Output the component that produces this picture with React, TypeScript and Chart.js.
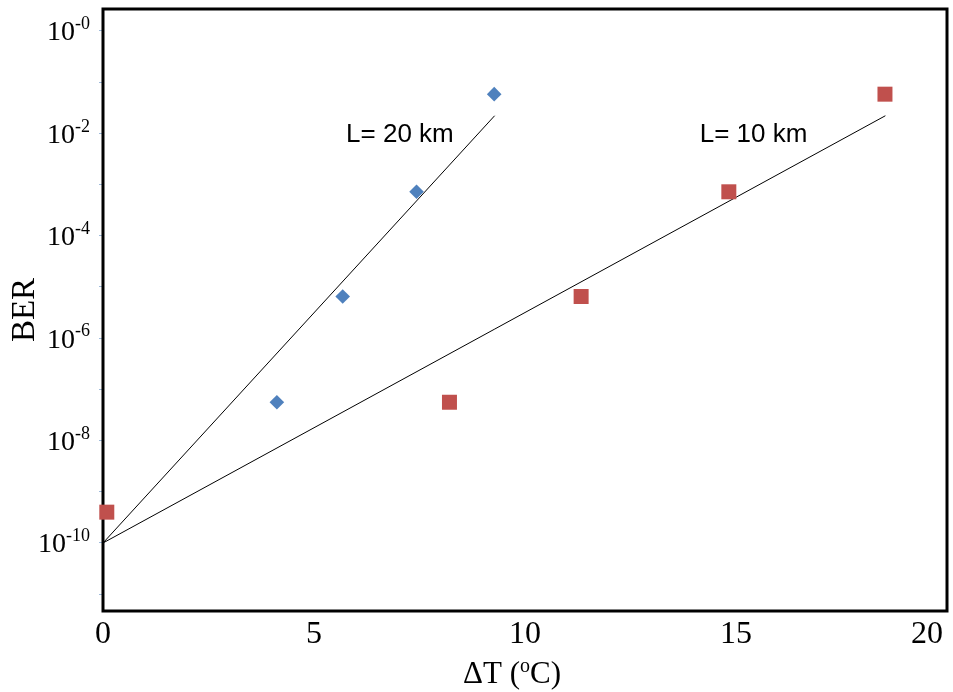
import { useEffect, useRef } from "react";
import { Chart, registerables } from "chart.js";

Chart.register(...registerables);

// ---- data ----
const dt20km = [4.12, 5.68, 7.43, 9.27];
const ber20km = [5.6e-8, 6.5e-6, 7.2e-4, 5.8e-2];
const dt10km = [0.09, 8.21, 11.33, 14.83, 18.53];
const ber10km = [4.0e-10, 5.6e-8, 6.5e-6, 7.2e-4, 5.8e-2];

// exponential trend lines (straight on the log axis)
const fit20kmDt = [0, 9.28];
const fit20kmBer = [1e-10, 2.2e-2];
const fit10kmDt = [0, 18.54];
const fit10kmBer = [1e-10, 2.2e-2];

const xTickValues = [0, 5, 10, 15, 20];
const yLabelExponents = [0, 2, 4, 6, 8, 10];
const yMarkExponents = [0, 1, 2, 3, 4, 5, 6, 7, 8, 9, 10, 11];

const annotationTexts = ["L= 20 km", "L= 10 km"];
const annotationDt = [5.76, 14.14];
const annotationBer = [9.2e-3, 9.2e-3];

const xTitleMain = "ΔT (";
const xTitleSup = "o";
const xTitleEnd = "C)";
const yTitle = "BER";

const SERIF = "'Liberation Serif', 'Times New Roman', serif";
const SANS = "'Liberation Sans', Arial, sans-serif";

const decorPlugin = {
  id: "decor",
  beforeDatasetsDraw(chart: any) {
    const { ctx, chartArea: a } = chart;
    ctx.save();
    ctx.strokeStyle = "#000";
    ctx.lineWidth = 3;
    ctx.strokeRect(a.left, a.top, a.right - a.left, a.bottom - a.top);
    ctx.restore();
  },
  afterDraw(chart: any) {
    const { ctx, chartArea: a } = chart;
    const ys = chart.scales.y;
    const xs = chart.scales.x;
    ctx.save();
    ctx.fillStyle = "#000";

    // y tick labels: 10 with superscript exponent
    const mainSize = 28;
    const supSize = 18;
    const rightEdge = a.left - 13;
    yLabelExponents.forEach((e) => {
      const py = ys.getPixelForValue(Math.pow(10, -e));
      const sup = "-" + e;
      ctx.font = `${supSize}px ${SERIF}`;
      const wSup = ctx.measureText(sup).width;
      ctx.font = `${mainSize}px ${SERIF}`;
      const wMain = ctx.measureText("10").width;
      const baseline = py + 0.338 * mainSize;
      ctx.textAlign = "left";
      ctx.textBaseline = "alphabetic";
      ctx.fillText("10", rightEdge - wSup - wMain, baseline);
      ctx.font = `${supSize}px ${SERIF}`;
      ctx.fillText(sup, rightEdge - wSup, baseline - 0.4 * mainSize);
    });

    // x tick labels: centred under the tick, kept inside the frame at the right end
    const xSize = 32;
    ctx.font = `${xSize}px ${SERIF}`;
    ctx.textAlign = "center";
    ctx.textBaseline = "alphabetic";
    xTickValues.forEach((v) => {
      const t = String(v);
      const w = ctx.measureText(t).width;
      let px = xs.getPixelForValue(v);
      px = Math.min(px, a.right - 4 - w / 2);
      ctx.fillText(t, px, 632 + 0.338 * xSize);
    });

    // x axis title with superscript o
    const tSize = 31;
    const tSup = 20;
    ctx.font = `${tSize}px ${SERIF}`;
    const w1 = ctx.measureText(xTitleMain).width;
    const w3 = ctx.measureText(xTitleEnd).width;
    ctx.font = `${tSup}px ${SERIF}`;
    const w2 = ctx.measureText(xTitleSup).width;
    const total = w1 + w2 + w3;
    const cx = (a.left + a.right) / 2 - 13;
    const base = 673 + 0.338 * tSize;
    let sx = cx - total / 2;
    ctx.textAlign = "left";
    ctx.textBaseline = "alphabetic";
    ctx.font = `${tSize}px ${SERIF}`;
    ctx.fillText(xTitleMain, sx, base);
    sx += w1;
    ctx.font = `${tSup}px ${SERIF}`;
    ctx.fillText(xTitleSup, sx, base - 0.38 * tSize);
    sx += w2;
    ctx.font = `${tSize}px ${SERIF}`;
    ctx.fillText(xTitleEnd, sx, base);

    // series annotations
    ctx.font = `26px ${SANS}`;
    ctx.textAlign = "left";
    ctx.textBaseline = "middle";
    annotationTexts.forEach((t, i) => {
      ctx.fillText(t, xs.getPixelForValue(annotationDt[i]), ys.getPixelForValue(annotationBer[i]));
    });
    ctx.restore();
  },
};

export default function App() {
  const ref = useRef<HTMLCanvasElement>(null);
  useEffect(() => {
    const chart = new Chart(ref.current as HTMLCanvasElement, {
      type: "scatter",
      data: {
        datasets: [
          {
            label: "L= 20 km",
            data: dt20km.map((x, i) => ({ x, y: ber20km[i] })),
            pointStyle: "rectRot",
            pointRadius: 7.3,
            backgroundColor: "#4F81BD",
            borderColor: "#4F81BD",
            borderWidth: 0,
            showLine: false,
            clip: false,
            order: 0,
          },
          {
            label: "L= 10 km",
            data: dt10km.map((x, i) => ({ x, y: ber10km[i] })),
            pointStyle: "rect",
            pointRadius: 10.6,
            backgroundColor: "#C0504D",
            borderColor: "#C0504D",
            borderWidth: 0,
            showLine: false,
            clip: false,
            order: 0,
          },
          {
            label: "fit 20 km",
            data: fit20kmDt.map((x, i) => ({ x, y: fit20kmBer[i] })),
            showLine: true,
            pointRadius: 0,
            borderColor: "#000",
            borderWidth: 1,
            order: 1,
          },
          {
            label: "fit 10 km",
            data: fit10kmDt.map((x, i) => ({ x, y: fit10kmBer[i] })),
            showLine: true,
            pointRadius: 0,
            borderColor: "#000",
            borderWidth: 1,
            order: 1,
          },
        ],
      } as any,
      options: {
        animation: false,
        responsive: false,
        events: [],
        layout: { autoPadding: false, padding: { top: 9, right: 6, left: 0, bottom: 0 } },
        plugins: {
          legend: { display: false },
          tooltip: { enabled: false },
        },
        scales: {
          x: {
            type: "linear",
            min: 0,
            max: 20,
            afterBuildTicks: (scale: any) => {
              scale.ticks = xTickValues.map((v) => ({ value: v }));
            },
            afterFit: (scale: any) => {
              scale.height = 81;
              scale.paddingLeft = 0;
              scale.paddingRight = 0;
            },
            grid: { display: false, drawTicks: false },
            border: { display: false },
            ticks: { display: false },
            title: { display: false },
          },
          y: {
            type: "logarithmic",
            min: 4.7e-12,
            max: 2.67,
            afterBuildTicks: (scale: any) => {
              scale.ticks = yMarkExponents.map((e) => ({ value: Math.pow(10, -e) }));
            },
            afterFit: (scale: any) => {
              scale.width = 103;
              scale.paddingTop = 0;
              scale.paddingBottom = 0;
            },
            grid: {
              display: true,
              drawOnChartArea: false,
              drawTicks: true,
              tickLength: 4,
              color: "rgba(79,129,189,0.55)",
              lineWidth: 1,
            },
            border: { display: false },
            ticks: { display: false },
            title: {
              display: true,
              text: yTitle,
              color: "#000",
              font: { family: SERIF, size: 33 },
              padding: { top: 6, bottom: 0 },
            },
          },
        },
      },
      plugins: [decorPlugin],
    } as any);
    return () => chart.destroy();
  }, []);
  return (
    <div
      style={{
        position: "absolute",
        left: 0,
        top: 0,
        width: 953,
        height: 692,
        background: "#fff",
      }}
    >
      <canvas ref={ref} width={953} height={692} style={{ display: "block" }} />
    </div>
  );
}
